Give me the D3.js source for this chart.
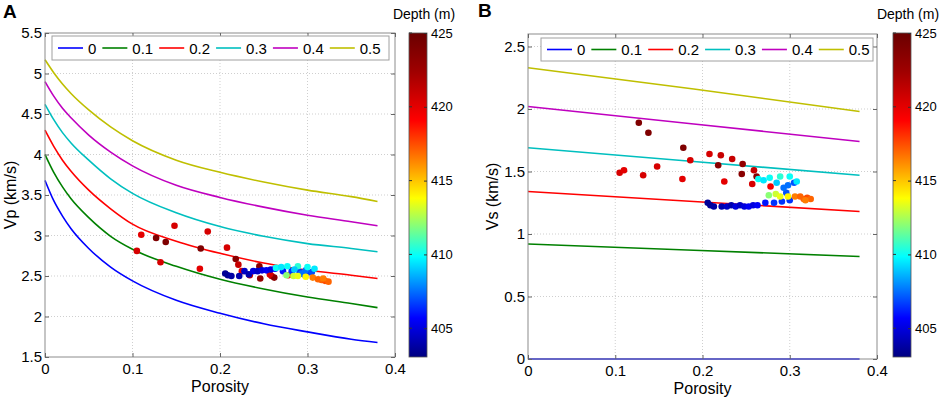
<!DOCTYPE html>
<html lang="en">
<head>
<meta charset="UTF-8">
<title>Vp and Vs versus porosity</title>
<style type="text/css">
    html, body { padding:0; margin:0; background:#fff; }
    svg text { font-family: "Liberation Sans", Arial, sans-serif; fill:#000; }
</style>
</head>
<body>
<script src="https://d3js.org/d3.v7.min.js"></script>
<script>
    var width = 941,
        height = 399;

    // model curves (one per parameter value)
    var curveLabels = ['0', '0.1', '0.2', '0.3', '0.4', '0.5'];
    var curveColors = ['#0000ff', '#008000', '#ff0000', '#00bfbf', '#bf00bf', '#bfbf00'];

    var vpPorosity = [0, 0.01, 0.02, 0.03, 0.05, 0.075, 0.1, 0.15, 0.2, 0.25, 0.3, 0.35, 0.38];
    var vpBlue    = [3.68, 3.43, 3.24, 3.08, 2.84, 2.61, 2.44, 2.20, 2.04, 1.91, 1.81, 1.72, 1.68];
    var vpGreen   = [4.00, 3.78, 3.60, 3.45, 3.22, 2.99, 2.83, 2.62, 2.46, 2.34, 2.24, 2.16, 2.11];
    var vpRed     = [4.30, 4.10, 3.93, 3.79, 3.56, 3.33, 3.14, 2.93, 2.78, 2.66, 2.57, 2.51, 2.47];
    var vpCyan    = [4.62, 4.43, 4.27, 4.14, 3.93, 3.70, 3.52, 3.28, 3.11, 2.99, 2.90, 2.84, 2.80];
    var vpMagenta = [4.90, 4.72, 4.57, 4.45, 4.24, 4.03, 3.86, 3.62, 3.47, 3.35, 3.25, 3.17, 3.12];
    var vpYellow  = [5.17, 5.01, 4.87, 4.75, 4.55, 4.34, 4.17, 3.93, 3.78, 3.66, 3.56, 3.48, 3.42];

    var vsPorosity = [0, 0.19, 0.38];
    var vsBlue    = [0, 0, 0];
    var vsGreen   = [0.92, 0.87, 0.82];
    var vsRed     = [1.34, 1.26, 1.18];
    var vsCyan    = [1.69, 1.58, 1.47];
    var vsMagenta = [2.02, 1.88, 1.74];
    var vsYellow  = [2.33, 2.16, 1.98];

    // measured samples
    var samplePorosity = [0.105, 0.110, 0.127, 0.132, 0.138, 0.148, 0.177, 0.178, 0.186, 0.208,
                          0.218, 0.221, 0.225, 0.234, 0.245, 0.246, 0.259, 0.262, 0.257, 0.278,
                          0.206, 0.209, 0.213, 0.222, 0.228, 0.233, 0.238, 0.243, 0.248, 0.253,
                          0.258, 0.263, 0.272, 0.282, 0.291, 0.296, 0.300, 0.298, 0.305, 0.293,
                          0.264, 0.270, 0.277, 0.289, 0.300, 0.308, 0.285, 0.276, 0.284, 0.289,
                          0.298, 0.306, 0.312, 0.316, 0.320, 0.324, 0.318];
    var sampleDepth    = [420.5, 420.0, 424.0, 420.5, 424.0, 420.5, 420.0, 424.0, 420.5, 420.5,
                          423.5, 421.0, 420.0, 421.0, 423.5, 423.0, 421.0, 423.5, 420.5, 419.5,
                          403.5, 403.5, 403.8, 404.0, 404.5, 404.0, 405.0, 404.5, 405.0, 405.5,
                          405.0, 405.5, 406.0, 406.5, 406.5, 407.0, 406.5, 407.5, 407.0, 407.5,
                          410.0, 409.5, 410.0, 410.5, 410.0, 409.5, 409.0, 412.0, 413.0, 413.5,
                          414.0, 416.5, 417.0, 417.0, 417.5, 417.0, 416.5];
    var sampleVp       = [2.81, 3.01, 2.97, 2.67, 2.92, 3.12, 2.59, 2.84, 3.05, 2.85,
                          2.71, 2.64, 2.56, 2.51, 2.62, 2.47, 2.50, 2.48, 2.52, 2.51,
                          2.53, 2.51, 2.50, 2.50, 2.56, 2.52, 2.56, 2.56, 2.57, 2.57,
                          2.58, 2.59, 2.56, 2.56, 2.55, 2.52, 2.54, 2.57, 2.55, 2.53,
                          2.60, 2.61, 2.62, 2.62, 2.61, 2.59, 2.58, 2.51, 2.50, 2.50,
                          2.49, 2.48, 2.46, 2.45, 2.44, 2.43, 2.47];
    var sampleVs       = [1.49, 1.51, 1.89, 1.47, 1.81, 1.54, 1.44, 1.69, 1.59, 1.64,
                          1.55, 1.63, 1.42, 1.60, 1.48, 1.56, 1.51, 1.46, 1.40, 1.38,
                          1.25, 1.23, 1.22, 1.22, 1.22, 1.23, 1.22, 1.23, 1.22, 1.22,
                          1.23, 1.23, 1.25, 1.25, 1.26, 1.33, 1.27, 1.39, 1.41, 1.37,
                          1.44, 1.43, 1.45, 1.46, 1.46, 1.42, 1.41, 1.31, 1.32, 1.30,
                          1.30, 1.30, 1.30, 1.28, 1.29, 1.28, 1.27];

    var xTicks = [0, 0.1, 0.2, 0.3, 0.4];
    var vpTicks = [1.5, 2, 2.5, 3, 3.5, 4, 4.5, 5, 5.5];
    var vsTicks = [0, 0.5, 1, 1.5, 2, 2.5];
    var depthTicks = [405, 410, 415, 420, 425];
    var depthExtent = [403.05, 425];

    // jet-like colormap as seen on the colour bar
    var jetStops  = [0, 0.12, 0.31, 0.49, 0.73, 0.88, 1];
    var jetColors = ['#000080', '#0000ff', '#00ffff', '#ffff00', '#ff0000', '#a00000', '#6a0000'];
    var depthColor = d3.scaleLinear()
        .domain(jetStops.map(function(t) { return depthExtent[0] + t * (depthExtent[1] - depthExtent[0]); }))
        .range(jetColors)
        .clamp(true);

    var samples = samplePorosity.map(function(p, i) {
        return {phi: p, depth: sampleDepth[i], vp: sampleVp[i], vs: sampleVs[i]};
    });

    var panels = [
        {name: 'A', left: 45, right: 395, top: 33, bottom: 357, yDomain: [1.5, 5.5], yTicks: vpTicks,
         yLabel: 'Vp (km/s)', labelX: 16, letterX: 3, letterY: 18,
         curveX: vpPorosity, curves: [vpBlue, vpGreen, vpRed, vpCyan, vpMagenta, vpYellow],
         key: 'vp', smooth: true,
         legend: {x: 52, y: 36, w: 337, h: 24},
         bar: {x: 409, w: 18, top: 33, bottom: 357}, depthX: 424},
        {name: 'B', left: 528, right: 877, top: 34, bottom: 359, yDomain: [0, 2.6], yTicks: vsTicks,
         yLabel: 'Vs (km/s)', labelX: 498, letterX: 478, letterY: 17,
         curveX: vsPorosity, curves: [vsBlue, vsGreen, vsRed, vsCyan, vsMagenta, vsYellow],
         key: 'vs', smooth: false,
         legend: {x: 541, y: 38, w: 332, h: 23},
         bar: {x: 893, w: 18, top: 33, bottom: 357}, depthX: 908}
    ];

    var svg = d3.select('body').append('svg')
                .attr('width', width)
                .attr('height', height);

    var defs = svg.append('defs');
    var grad = defs.append('linearGradient')
        .attr('id', 'jet')
        .attr('x1', 0).attr('y1', 1).attr('x2', 0).attr('y2', 0);
    jetStops.forEach(function(t, i) {
        grad.append('stop').attr('offset', t).attr('stop-color', jetColors[i]);
    });

    panels.forEach(function(p) {
        var x = d3.scaleLinear().domain([0, 0.4]).range([p.left, p.right]),
            y = d3.scaleLinear().domain(p.yDomain).range([p.bottom, p.top]);

        var g = svg.append('g');

        // grid
        g.selectAll('line.gx').data(xTicks.slice(1, -1)).enter().append('line')
            .attr('x1', x).attr('x2', x).attr('y1', p.top).attr('y2', p.bottom)
            .attr('stroke', '#cfcfcf').attr('stroke-dasharray', '1,2');
        g.selectAll('line.gy').data(p.yTicks).enter().append('line')
            .filter(function(d) { return y(d) > p.top + 1 && y(d) < p.bottom - 1; })
            .attr('x1', p.left).attr('x2', p.right).attr('y1', y).attr('y2', y)
            .attr('stroke', '#cfcfcf').attr('stroke-dasharray', '1,2');

        // curves
        var line = d3.line()
            .x(function(d) { return x(d[0]); })
            .y(function(d) { return y(d[1]); })
            .curve(p.smooth ? d3.curveMonotoneX : d3.curveLinear);

        p.curves.forEach(function(vals, i) {
            g.append('path')
                .attr('d', line(p.curveX.map(function(v, j) { return [v, vals[j]]; })))
                .attr('fill', 'none')
                .attr('stroke', curveColors[i])
                .attr('stroke-width', 1.6);
        });

        // samples
        g.selectAll('circle').data(samples).enter().append('circle')
            .attr('cx', function(d) { return x(d.phi); })
            .attr('cy', function(d) { return y(d[p.key]); })
            .attr('r', 3.3)
            .attr('fill', function(d) { return depthColor(d.depth); });

        // box
        g.append('rect')
            .attr('x', p.left).attr('y', p.top)
            .attr('width', p.right - p.left).attr('height', p.bottom - p.top)
            .attr('fill', 'none').attr('stroke', '#8c8c8c').attr('stroke-width', 1);

        // axes
        var axisB = d3.axisBottom(x).tickValues(xTicks).tickFormat(String).tickSizeInner(-4).tickSizeOuter(0).tickPadding(6),
            axisT = d3.axisTop(x).tickValues(xTicks).tickFormat('').tickSizeInner(-4).tickSizeOuter(0),
            axisL = d3.axisLeft(y).tickValues(p.yTicks).tickFormat(String).tickSizeInner(-4).tickSizeOuter(0).tickPadding(3),
            axisR = d3.axisRight(y).tickValues(p.yTicks).tickFormat('').tickSizeInner(-4).tickSizeOuter(0);

        [[axisB, 'translate(0,' + p.bottom + ')'], [axisT, 'translate(0,' + p.top + ')'],
         [axisL, 'translate(' + p.left + ',0)'], [axisR, 'translate(' + p.right + ',0)']].forEach(function(a) {
            var ag = g.append('g').attr('transform', a[1]).call(a[0]);
            ag.select('.domain').remove();
            ag.selectAll('.tick line').attr('stroke', '#666');
            ag.attr('font-size', 15).attr('font-family', '"Liberation Sans", Arial, sans-serif');
        });

        // axis labels
        g.append('text')
            .attr('x', (p.left + p.right) / 2).attr('y', p.bottom + 35)
            .attr('text-anchor', 'middle').attr('font-size', 16)
            .text('Porosity');
        g.append('text')
            .attr('transform', 'translate(' + p.labelX + ',' + ((p.top + p.bottom) / 2) + ') rotate(-90)')
            .attr('text-anchor', 'middle').attr('font-size', 16)
            .text(p.yLabel);

        // panel letter
        g.append('text')
            .attr('x', p.letterX).attr('y', p.letterY)
            .attr('font-size', 19).attr('font-weight', 'bold')
            .text(p.name);

        // legend
        var L = p.legend;
        var lg = g.append('g');
        lg.append('rect')
            .attr('x', L.x).attr('y', L.y).attr('width', L.w).attr('height', L.h)
            .attr('fill', '#fff').attr('stroke', '#a0a0a0');
        var cx = L.x + 6, cy = L.y + L.h / 2;
        curveLabels.forEach(function(lab, i) {
            lg.append('line')
                .attr('x1', cx).attr('x2', cx + 25).attr('y1', cy).attr('y2', cy)
                .attr('stroke', curveColors[i]).attr('stroke-width', 1.6);
            var t = lg.append('text')
                .attr('x', cx + 30).attr('y', cy + 5.5)
                .attr('font-size', 15)
                .text(lab);
            cx += 30 + t.node().getComputedTextLength() + 6;
        });

        // colour bar
        var B = p.bar;
        var c = d3.scaleLinear().domain(depthExtent).range([B.bottom, B.top]);
        g.append('rect')
            .attr('x', B.x).attr('y', B.top).attr('width', B.w).attr('height', B.bottom - B.top)
            .attr('fill', 'url(#jet)').attr('stroke', '#555').attr('stroke-width', 0.8);
        var cbar = g.append('g').attr('transform', 'translate(' + (B.x + B.w) + ',0)')
            .call(d3.axisRight(c).tickValues(depthTicks).tickFormat(String).tickSizeInner(-3).tickSizeOuter(0).tickPadding(4));
        cbar.select('.domain').remove();
        cbar.selectAll('.tick line').attr('stroke', '#333');
        cbar.attr('font-size', 13).attr('font-family', '"Liberation Sans", Arial, sans-serif');
        g.selectAll('line.cbl').data(depthTicks).enter().append('line')
            .attr('x1', B.x).attr('x2', B.x + 3)
            .attr('y1', c).attr('y2', c)
            .attr('stroke', '#333');
        g.append('text')
            .attr('x', p.depthX).attr('y', 19)
            .attr('text-anchor', 'middle').attr('font-size', 14)
            .text('Depth (m)');
    });
</script>
</body>
</html>
